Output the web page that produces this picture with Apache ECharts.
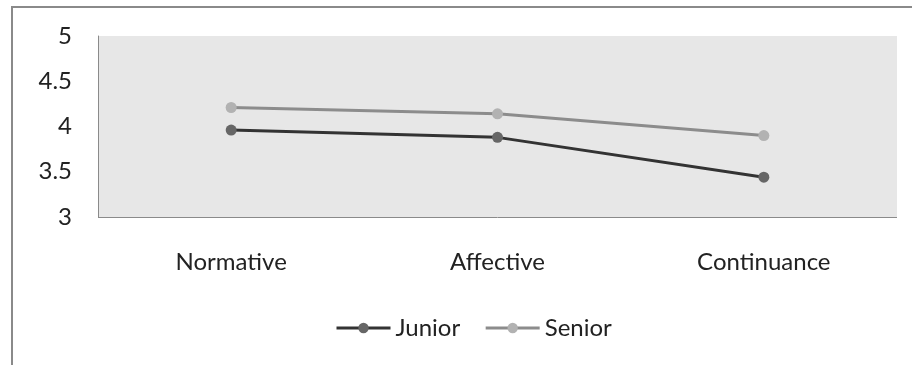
<!DOCTYPE html>
<html>
<head>
<meta charset="utf-8">
<script src="https://cdn.jsdelivr.net/npm/echarts@6/dist/echarts.min.js"></script>
<style>
  html, body { margin: 0; padding: 0; background: #fff; }
  #frame { position: absolute; left: 11px; top: 6px; width: 920px; height: 400px;
           border-left: 2px solid #8a8a8a; border-top: 2px solid #8a8a8a; box-sizing: border-box; }
  #chart { position: absolute; left: 0; top: 0; width: 912px; height: 365px; }
</style>
</head>
<body>
<div id="frame"></div>
<div id="chart"></div>
<script>
// Commitment dimensions and mean scores by group
const categories = ['Normative', 'Affective', 'Continuance'];
const juniorScores = [3.96, 3.88, 3.44];
const seniorScores = [4.21, 4.14, 3.90];
const yTicks = { min: 3, max: 5, step: 0.5 };

const chart = echarts.init(document.getElementById('chart'));
const font = 'Lato, "Open Sans", sans-serif';

chart.setOption({
  animation: false,
  textStyle: { fontFamily: font },
  grid: {
    left: 98, right: 15, top: 36, bottom: 148,
    show: true, backgroundColor: '#e7e7e7', borderWidth: 0
  },
  legend: {
    top: 311, left: 330,
    itemWidth: 54, itemHeight: 13, itemGap: 24,
    lineStyle: { width: 3 },
    textStyle: { fontFamily: font, fontSize: 24, color: '#222' },
    data: ['Junior', 'Senior']
  },
  xAxis: {
    type: 'category',
    data: categories,
    boundaryGap: true,
    axisLine: { show: false },
    axisTick: { show: false },
    axisLabel: { margin: 33, fontSize: 24, color: '#222', fontFamily: font }
  },
  yAxis: {
    type: 'value',
    min: yTicks.min, max: yTicks.max, interval: yTicks.step,
    axisLine: { show: true, lineStyle: { color: '#8a8a8a', width: 1 } },
    axisTick: { show: false },
    splitLine: { show: false },
    axisLabel: { margin: 26, fontSize: 24, color: '#222', fontFamily: font }
  },
  series: [
    {
      name: 'Junior', type: 'line', data: juniorScores,
      symbol: 'circle', symbolSize: 11,
      lineStyle: { color: '#333333', width: 3 },
      itemStyle: { color: '#666666' }
    },
    {
      name: 'Senior', type: 'line', data: seniorScores,
      symbol: 'circle', symbolSize: 11,
      lineStyle: { color: '#8c8c8c', width: 3 },
      itemStyle: { color: '#b2b2b2' }
    }
  ],
  graphic: [
    // x-axis baseline along the bottom of the plot area
    { type: 'line', shape: { x1: 98, y1: 217.5, x2: 897, y2: 217.5 },
      style: { stroke: '#8a8a8a', lineWidth: 1 }, z: 10 }
  ]
});
</script>
</body>
</html>
